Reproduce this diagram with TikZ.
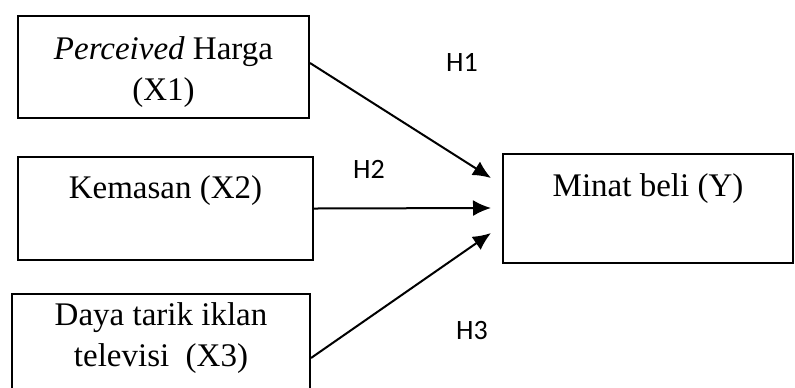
\documentclass[tikz,border=0pt]{standalone}
\usepackage{fontspec}
\setmainfont{Liberation Serif}
\newfontfamily\hfont{Carlito}
\usetikzlibrary{arrows.meta,positioning}
\tikzset{
    >={Latex[length=9pt,width=8pt]},
    kotak/.style={
           rectangle,
           draw=black, line width=1pt,
           inner sep=0pt,
           align=center,
           font=\fontsize{16.5}{20.5}\selectfont},
    panah/.style={
           ->,
           line width=1pt},
    hipo/.style={
           font=\hfont\fontsize{14}{16}\selectfont}
}

\begin{document}
\begin{tikzpicture}[x=0.5pt,y=-0.5pt]
        \clip (0,0) rectangle (795,387);
        \node[kotak, anchor=north, minimum width=145.5pt, text height=42pt, text depth=9pt] (X1) at (163.5,15) {\textit{Perceived} Harga\\(X1)};
        \node[kotak, anchor=north, minimum width=147.5pt, text height=20.5pt, text depth=31pt] (X2) at (165.5,156) {Kemasan (X2)};
        \node[kotak, anchor=north, minimum width=149pt, text height=36pt, text depth=28pt] (X3) at (161,293) {Daya tarik iklan\\televisi~~(X3)};
        \node[kotak, anchor=north, minimum width=145pt, text height=21pt, text depth=33.5pt] (Y) at (648,153) {Minat beli (Y)};
        \coordinate (t1) at (491,178);
        \coordinate (t2) at (491,208);
        \coordinate (t3) at (491,233);
        \draw[panah] ([yshift=2pt]X1.east) -- (t1);
        \draw[panah] (X2.east) -- (t2);
        \draw[panah] (X3.east) -- (t3);
        \node[hipo] (h1) at (462,62) {H1};
        \node[hipo] (h2) at (369,169) {H2};
        \node[hipo] (h3) at (472,330) {H3};
    \end{tikzpicture}
\end{document}
